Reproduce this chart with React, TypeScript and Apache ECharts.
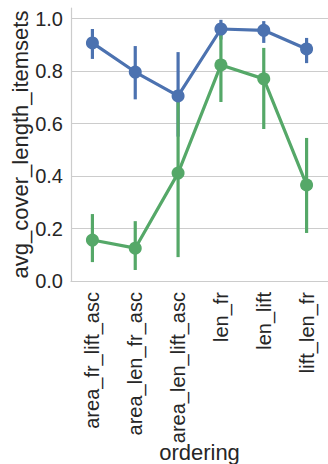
import React, { useEffect, useRef } from "react";
import * as echarts from "echarts";

const categories = [
  "area_fr_lift_asc",
  "area_len_fr_asc",
  "area_len_lift_asc",
  "len_fr",
  "len_lift",
  "lift_len_fr",
];

// blue group: mean and confidence interval
const blueMean = [0.907, 0.796, 0.705, 0.96, 0.955, 0.884];
const blueLow = [0.846, 0.692, 0.55, 0.92, 0.907, 0.83];
const blueHigh = [0.96, 0.895, 0.872, 0.995, 0.99, 0.926];

// green group: mean and confidence interval
const greenMean = [0.156, 0.125, 0.411, 0.823, 0.77, 0.366];
const greenLow = [0.072, 0.042, 0.091, 0.682, 0.579, 0.183];
const greenHigh = [0.255, 0.228, 0.728, 0.95, 0.888, 0.545];

const yTicks = [0, 0.2, 0.4, 0.6, 0.8, 1.0];

const BLUE = "#4C72B0";
const GREEN = "#55A868";
const TEXT = "#262626";
const FONT = "Liberation Sans, Arial, sans-serif";

function errorSeries(low: number[], high: number[], color: string, z: number) {
  return {
    type: "custom",
    z,
    data: low.map((lo, i) => [i, lo, high[i]]),
    renderItem: (_params: any, api: any) => {
      const i = api.value(0);
      const a = api.coord([i, api.value(1)]);
      const b = api.coord([i, api.value(2)]);
      return {
        type: "line",
        shape: { x1: a[0], y1: a[1], x2: b[0], y2: b[1] },
        style: { stroke: color, lineWidth: 3.2 },
      };
    },
  };
}

function meanSeries(values: number[], color: string, z: number) {
  return {
    type: "line",
    z,
    data: values,
    symbol: "circle",
    symbolSize: 13,
    showAllSymbol: true,
    lineStyle: { color, width: 3.2 },
    itemStyle: { color },
  };
}

export default function App() {
  const ref = useRef<HTMLDivElement>(null);
  useEffect(() => {
    if (!ref.current) return;
    const chart = echarts.init(ref.current, null, { renderer: "svg" });
    chart.setOption({
      animation: false,
      backgroundColor: "#ffffff",
      grid: {
        left: 71,
        right: 0,
        top: 8,
        bottom: 183,
        containLabel: false,
        outerBoundsMode: "none",
      },
      xAxis: {
        type: "category",
        data: categories,
        boundaryGap: true,
        axisLine: { show: true, lineStyle: { color: "#cccccc", width: 1.2 } },
        axisTick: { show: false },
        axisLabel: {
          rotate: 90,
          margin: 11,
          color: TEXT,
          fontSize: 20,
          fontFamily: FONT,
          interval: 0,
        },
        name: "ordering",
        nameLocation: "middle",
        nameGap: 160,
        nameMoveOverlap: false,
        nameTextStyle: { color: TEXT, fontSize: 22, fontFamily: FONT },
        splitLine: { show: false },
      },
      yAxis: {
        type: "value",
        min: 0,
        max: 1.04,
        interval: 0.2,
        axisLine: { show: true, lineStyle: { color: "#cccccc", width: 1.2 } },
        axisTick: { show: false },
        axisLabel: {
          margin: 8,
          color: TEXT,
          fontSize: 20,
          fontFamily: FONT,
          showMaxLabel: false,
          formatter: (v: number) =>
            yTicks.some((t) => Math.abs(t - v) < 1e-6) ? v.toFixed(1) : "",
        },
        splitLine: {
          show: true,
          showMaxLine: false,
          lineStyle: { color: "#cccccc", width: 1.2 },
        },
        name: "avg_cover_length_itemsets",
        nameLocation: "middle",
        nameGap: 40,
        nameMoveOverlap: false,
        nameTextStyle: { color: TEXT, fontSize: 22, fontFamily: FONT },
      },
      series: [
        errorSeries(blueLow, blueHigh, BLUE, 1),
        errorSeries(greenLow, greenHigh, GREEN, 2),
        meanSeries(blueMean, BLUE, 3),
        meanSeries(greenMean, GREEN, 4),
      ],
    });
    return () => chart.dispose();
  }, []);
  return (
    <div
      ref={ref}
      style={{ position: "absolute", left: 0, top: 0, width: 328, height: 464 }}
    />
  );
}
